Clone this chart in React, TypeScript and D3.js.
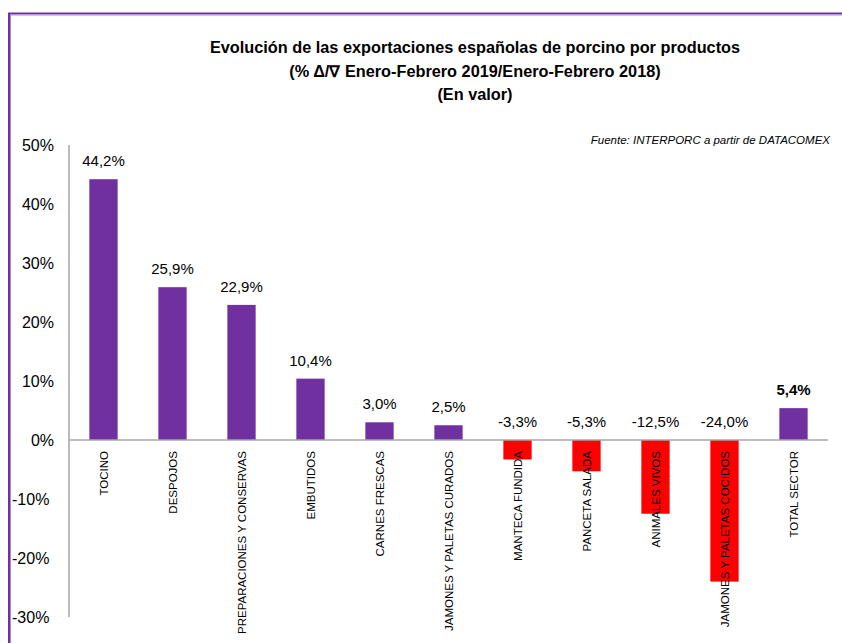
import React from "react";
import * as d3 from "d3";

const categories = [
  "TOCINO",
  "DESPOJOS",
  "PREPARACIONES Y CONSERVAS",
  "EMBUTIDOS",
  "CARNES FRESCAS",
  "JAMONES Y PALETAS CURADOS",
  "MANTECA FUNDIDA",
  "PANCETA SALADA",
  "ANIMALES VIVOS",
  "JAMONES Y PALETAS COCIDOS",
  "TOTAL SECTOR",
];
const values = [44.2, 25.9, 22.9, 10.4, 3.0, 2.5, -3.3, -5.3, -12.5, -24.0, 5.4];
const yTicks = [50, 40, 30, 20, 10, 0, -10, -20, -30];
const titleLines = [
  "Evolución de las exportaciones españolas de porcino por productos",
  "(% Δ/∇ Enero-Febrero 2019/Enero-Febrero 2018)",
  "(En valor)",
];
const source = "Fuente: INTERPORC  a partir de DATACOMEX";

const W = 842;
const H = 643;
const left = 69;
const right = 828;
const top = 145;
const bottom = 617;
const font = "'Liberation Sans', Arial, sans-serif";

export default function App() {
  const x = d3.scaleBand<string>().domain(categories).range([left, right]).paddingInner(0.59).paddingOuter(0.295);
  const y = d3.scaleLinear().domain([-30, 50]).range([bottom, top]);
  const fmt = (v: number) => v.toFixed(1).replace(".", ",") + "%";
  return (
    <svg width={W} height={H} style={{ position: "absolute", left: 0, top: 0 }} fontFamily={font}>
      <rect x={0} y={0} width={W} height={H} fill="#fff" />
      <line x1={8} y1={13.5} x2={W} y2={13.5} stroke="#7030A0" strokeWidth={2} />
      <line x1={8.5} y1={15} x2={W} y2={15} stroke="#B58BD6" strokeWidth={1} />
      <line x1={9} y1={13} x2={9} y2={H} stroke="#7030A0" strokeWidth={2} />
      <line x1={10.5} y1={15} x2={10.5} y2={H} stroke="#B58BD6" strokeWidth={1} />
      {titleLines.map((t, i) => (
        <text key={i} x={475} y={53 + i * 23.5} textAnchor="middle" fontSize={16.3} fontWeight="bold" fill="#000">
          {t}
        </text>
      ))}
      <text x={830} y={144} textAnchor="end" fontSize={11.5} fontStyle="italic" fill="#000">
        {source}
      </text>
      {yTicks.map((t) => (
        <text key={t} x={t < 0 ? 12 : 54} y={y(t) + 6} textAnchor={t < 0 ? "start" : "end"} fontSize={16} fill="#000">
          {t + "%"}
        </text>
      ))}
      {categories.map((c, i) => {
        const v = values[i];
        const bx = x(c)!;
        const y0 = y(0);
        const yv = y(v);
        return (
          <g key={c}>
            <rect
              x={bx}
              y={Math.min(y0, yv)}
              width={x.bandwidth()}
              height={Math.abs(yv - y0)}
              fill={v >= 0 ? "#7030A0" : "#FF0000"}
            />
          </g>
        );
      })}
      <line x1={left} y1={y(0)} x2={right} y2={y(0)} stroke="#A6A6A6" strokeWidth={1.5} />
      <line x1={left} y1={top} x2={left} y2={bottom} stroke="#A6A6A6" strokeWidth={1.5} />
      {categories.map((c, i) => {
        const v = values[i];
        const cx = x(c)! + x.bandwidth() / 2;
        const ly = v >= 0 ? y(v) - 13 : y(0) - 13;
        const isTotal = i === categories.length - 1;
        return (
          <g key={c + "l"}>
            <text x={cx} y={ly} textAnchor="middle" fontSize={15} fontWeight={isTotal ? "bold" : "normal"} fill="#000">
              {fmt(v)}
            </text>
            <text
              transform={`translate(${cx + 4.5},${y(0) + 11}) rotate(-90)`}
              textAnchor="end"
              fontSize={11.5}
              fill="#000"
            >
              {c}
            </text>
          </g>
        );
      })}
    </svg>
  );
}
